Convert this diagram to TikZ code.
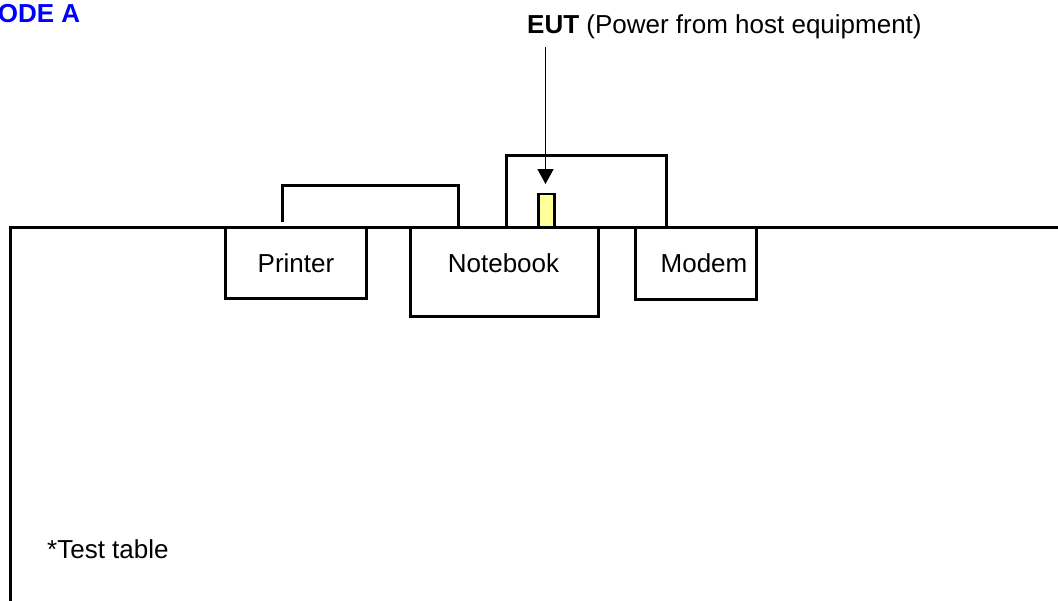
\documentclass[tikz,border=0pt]{standalone}
\usepackage{fontspec}
\setmainfont{Liberation Sans}
\usetikzlibrary{arrows.meta}
\definecolor{modeblue}{RGB}{0,0,255}
\definecolor{eutyellow}{RGB}{255,255,153}
\begin{document}
\begin{tikzpicture}[x=1pt,y=-1pt,
  thick line/.style={line width=3pt},
  devbox/.style={draw=black,line width=3pt,fill=white,inner sep=0pt},
  lbl/.style={font=\fontsize{26}{30}\selectfont,inner sep=0pt,anchor=base}]
\useasboundingbox (0,0) rectangle (1058,600);
% test table
\draw[thick line] (1070,227.5) -- (10.5,227.5) -- (10.5,610);
% EUT host box
\node[devbox, minimum width=160pt, minimum height=72pt] (host) at (586,191) {};
\node[draw=black,line width=2.5pt,fill=eutyellow,inner sep=0pt,minimum width=16pt,minimum height=33pt] (eut) at (546.5,210.5) {};
% devices
\node[devbox, minimum width=141pt, minimum height=71pt] (pr) at (295.5,262.5) {};
\node[devbox, minimum width=188pt, minimum height=89pt] (nb) at (504,271.5) {};
\node[devbox, minimum width=121pt, minimum height=72pt] (mo) at (695.5,263) {};
\node[lbl] (prt) at (296,272) {Printer};
\node[lbl] (nbt) at (503.5,272) {Notebook};
\node[lbl] (mot) at (704,272) {Modem};
% printer cable
\coordinate (c1) at (282,222);
\coordinate (c2) at (458.5,227);
\draw[thick line] (c1) -- (282,185) -- (458.5,185) -- (c2);
% EUT label and arrow
\node[lbl, anchor=base west] (eutl) at (527,33) {\textbf{EUT} (Power from host equipment)};
\coordinate (a0) at (545.5,47);
\coordinate (a1) at (545.5,184);
\draw[line width=1.5pt,-{Triangle[length=15pt,width=16pt]}] (a0) -- (a1);
% titles
\node[lbl, anchor=base west, text=modeblue, font=\fontsize{26}{30}\selectfont\bfseries] (mode) at (-24,22) {MODE A};
\node[lbl, anchor=base west] (tt) at (47,558) {*Test table};
\end{tikzpicture}
\end{document}
